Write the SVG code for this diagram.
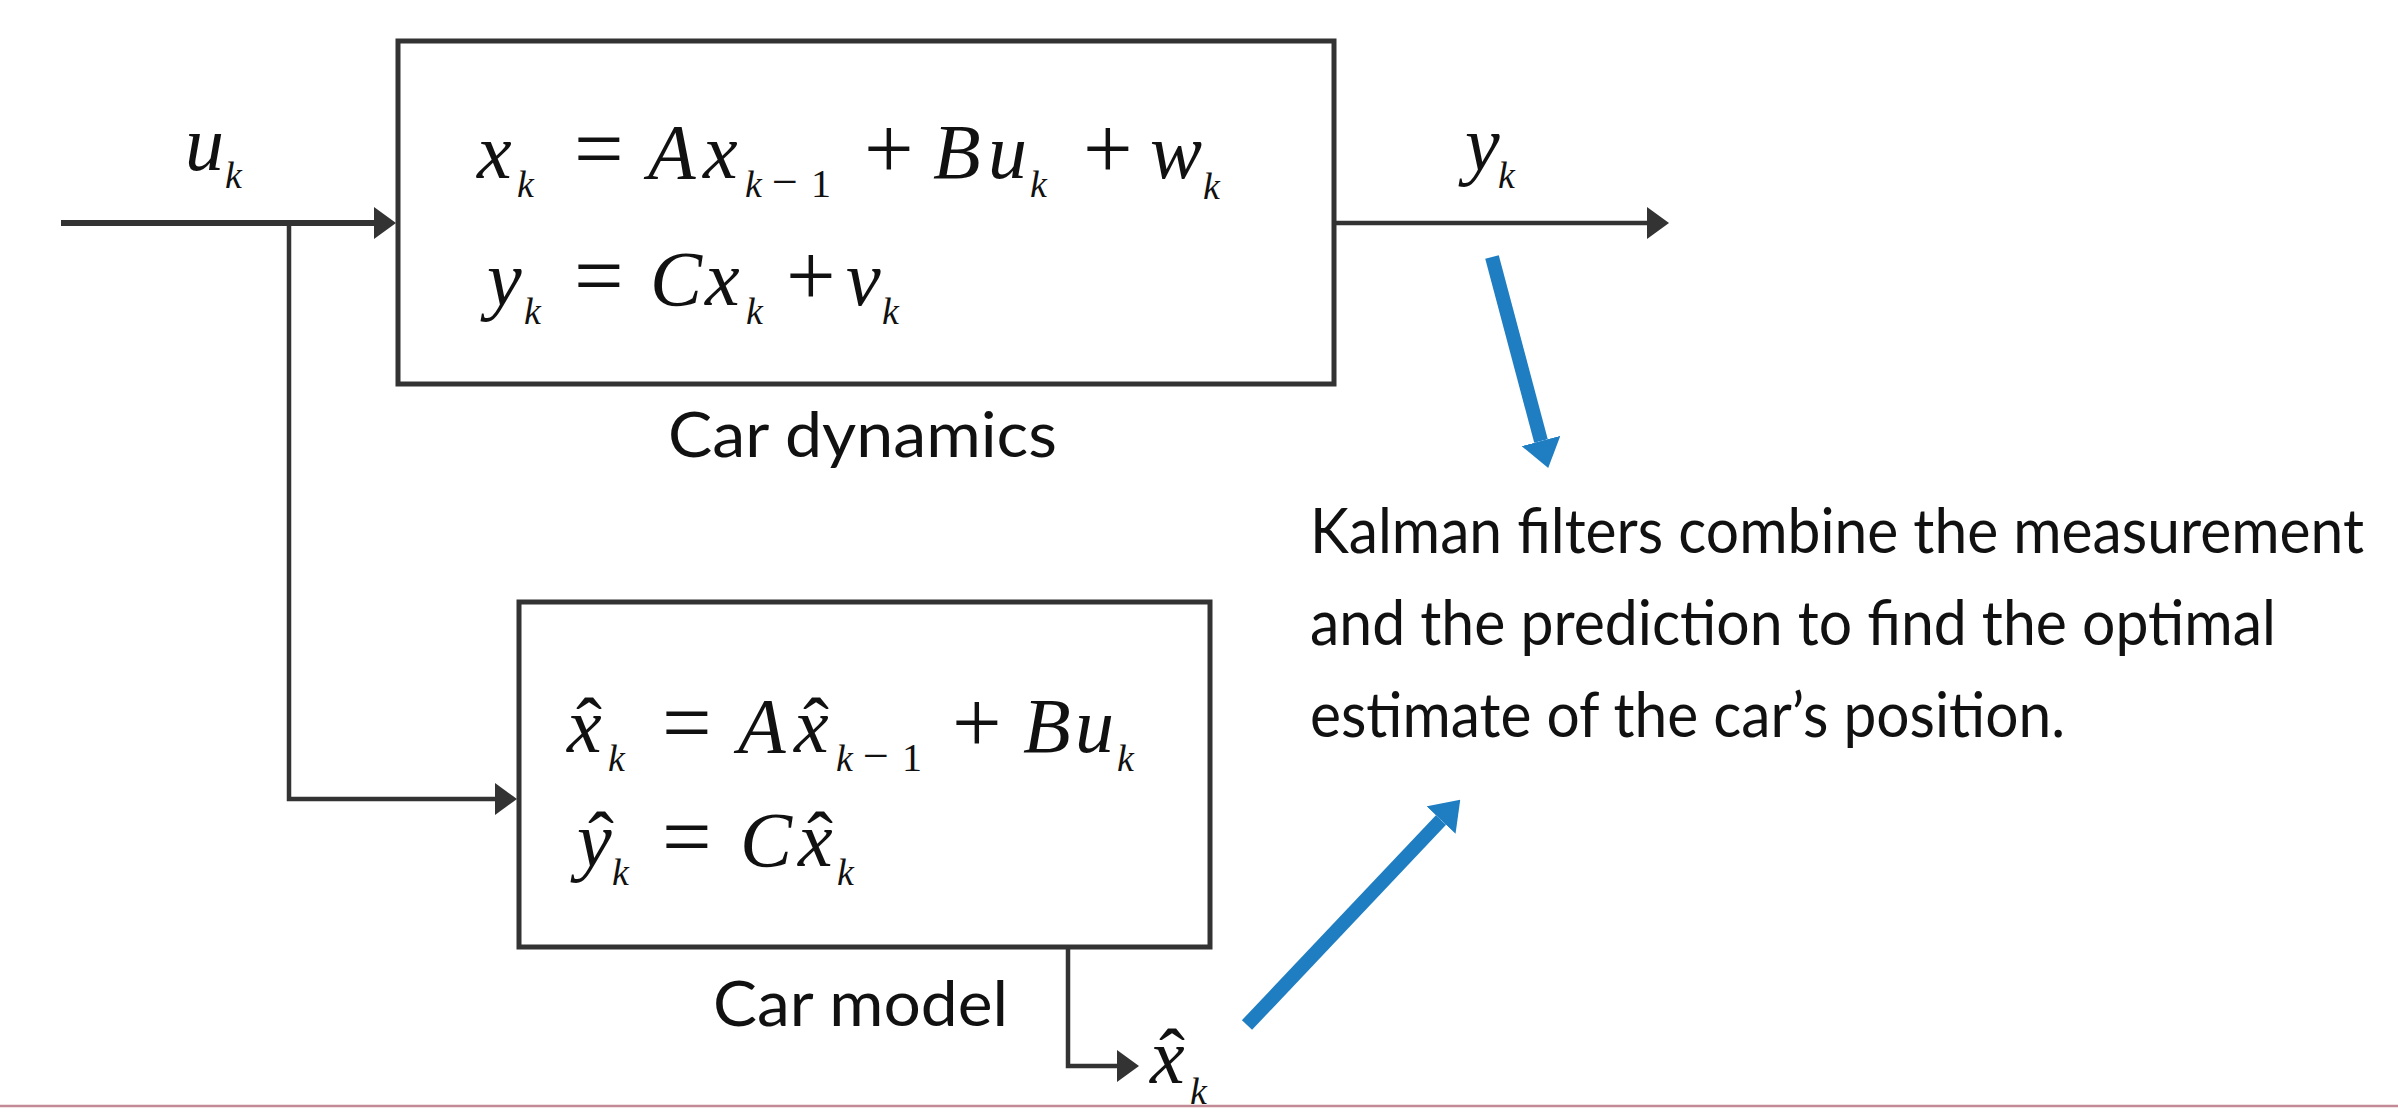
<svg xmlns="http://www.w3.org/2000/svg" width="2398" height="1118" viewBox="0 0 2398 1118">
<style>
  .box { fill: #ffffff; stroke: #333333; stroke-width: 5; }
  .wire { fill: none; stroke: #333333; stroke-width: 4.5; }
  .blue { fill: none; stroke: #1f7dc2; stroke-width: 14; }
  .m { font-family: "Liberation Serif", "Times New Roman", serif; font-style: italic; font-size: 78px; fill: #111111; }
  .op { font-style: normal; font-size: 88px; }
  .s { font-size: 38px; }
  .mi { font-style: normal; font-size: 46px; }
  .one { font-style: normal; font-size: 40px; }
  .hat { font-style: normal; font-size: 78px; }
  .lbl { font-family: Lato, "Noto Sans", "DejaVu Sans", sans-serif; font-size: 62px; fill: #111111; }
</style>
<defs>
  <marker id="ah" markerWidth="22" markerHeight="32" refX="0" refY="16" orient="auto" markerUnits="userSpaceOnUse">
    <path d="M0,0 L22,16 L0,32 z" fill="#333333"/>
  </marker>
  <marker id="bh" markerWidth="28" markerHeight="40" refX="0" refY="20" orient="auto" markerUnits="userSpaceOnUse">
    <path d="M0,0 L28,20 L0,40 z" fill="#1f7dc2"/>
  </marker>
</defs>
<rect width="2398" height="1118" fill="#ffffff"/>
<line x1="0" y1="1106" x2="2398" y2="1106" stroke="#c48996" stroke-width="2.5"/>

<g id="connectors">
  <line class="wire" x1="61" y1="223" x2="374" y2="223" marker-end="url(#ah)" style="stroke-width:6"/>
  <polyline class="wire" points="289,223 289,799 495,799" marker-end="url(#ah)"/>
  <line class="wire" x1="1334" y1="223" x2="1647" y2="223" marker-end="url(#ah)"/>
  <polyline class="wire" points="1068,948 1068,1066 1117,1066" marker-end="url(#ah)"/>
  <line class="blue" x1="1492" y1="257" x2="1541" y2="441" marker-end="url(#bh)"/>
  <line class="blue" x1="1247" y1="1025" x2="1441" y2="820" marker-end="url(#bh)"/>
</g>

<g id="input-label">
  <text class="m"><tspan x="185" y="170">u</tspan><tspan class="s" x="225" y="188">k</tspan></text>
</g>

<g id="output-label">
  <text class="m"><tspan x="1465" y="170">y</tspan><tspan class="s" x="1498" y="188">k</tspan></text>
</g>

<g id="car-dynamics">
  <rect class="box" x="398" y="41" width="936" height="343"/>
  <text class="m">
    <tspan x="477" y="178">x</tspan><tspan class="s" x="517" y="197">k</tspan>
    <tspan class="op" x="574" y="178">=</tspan>
    <tspan x="648" y="178">A</tspan><tspan x="703" y="178">x</tspan>
    <tspan class="s" x="745" y="197">k</tspan><tspan class="mi" x="772" y="197">−</tspan><tspan class="one" x="811" y="197">1</tspan>
    <tspan class="op" x="864" y="178">+</tspan>
    <tspan x="933" y="178">B</tspan><tspan x="988" y="178">u</tspan><tspan class="s" x="1030" y="197">k</tspan>
    <tspan class="op" x="1083" y="178">+</tspan>
    <tspan x="1150" y="178">w</tspan><tspan class="s" x="1203" y="199">k</tspan>
  </text>
  <text class="m">
    <tspan x="487" y="305">y</tspan><tspan class="s" x="524" y="324">k</tspan>
    <tspan class="op" x="574" y="305">=</tspan>
    <tspan x="650" y="305">C</tspan><tspan x="705" y="305">x</tspan><tspan class="s" x="746" y="324">k</tspan>
    <tspan class="op" x="786" y="305">+</tspan>
    <tspan x="846" y="305">v</tspan><tspan class="s" x="882" y="324">k</tspan>
  </text>
  <text class="lbl" x="668" y="457" textLength="389" lengthAdjust="spacingAndGlyphs">Car dynamics</text>
</g>

<g id="car-model">
  <rect class="box" x="519" y="602" width="691" height="345"/>
  <text class="m">
    <tspan x="567" y="752">x</tspan><tspan class="hat" x="576" y="752">ˆ</tspan><tspan class="s" x="608" y="771">k</tspan>
    <tspan class="op" x="662" y="752">=</tspan>
    <tspan x="738" y="752">A</tspan><tspan x="794" y="752">x</tspan><tspan class="hat" x="803" y="752">ˆ</tspan>
    <tspan class="s" x="836" y="771">k</tspan><tspan class="mi" x="863" y="771">−</tspan><tspan class="one" x="902" y="771">1</tspan>
    <tspan class="op" x="952" y="752">+</tspan>
    <tspan x="1023" y="752">B</tspan><tspan x="1075" y="752">u</tspan><tspan class="s" x="1117" y="771">k</tspan>
  </text>
  <text class="m">
    <tspan x="577" y="866">y</tspan><tspan class="hat" x="588" y="866">ˆ</tspan><tspan class="s" x="612" y="885">k</tspan>
    <tspan class="op" x="662" y="866">=</tspan>
    <tspan x="740" y="866">C</tspan><tspan x="798" y="866">x</tspan><tspan class="hat" x="807" y="866">ˆ</tspan><tspan class="s" x="837" y="885">k</tspan>
  </text>
  <text class="lbl" x="713" y="1026" textLength="295" lengthAdjust="spacingAndGlyphs">Car model</text>
</g>

<g id="estimate-label">
  <text class="m"><tspan x="1150" y="1083">x</tspan><tspan class="hat" x="1159" y="1083">ˆ</tspan><tspan class="s" x="1190" y="1104">k</tspan></text>
</g>

<g id="note">
  <text class="lbl" x="1310" y="553" textLength="1054" lengthAdjust="spacingAndGlyphs">Kalman filters combine the measurement</text>
  <text class="lbl" x="1310" y="645" textLength="966" lengthAdjust="spacingAndGlyphs">and the prediction to find the optimal</text>
  <text class="lbl" x="1310" y="737" textLength="755" lengthAdjust="spacingAndGlyphs">estimate of the car’s position.</text>
</g>
</svg>
